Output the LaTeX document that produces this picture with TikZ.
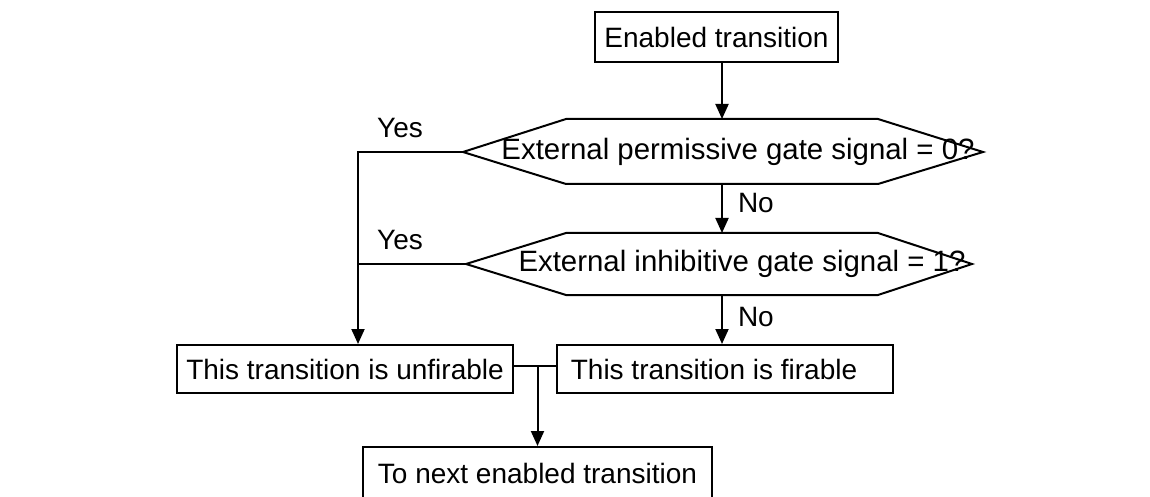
\documentclass[tikz,border=0pt]{standalone}
\usepackage{fontspec}
\setmainfont{Liberation Sans}
\usetikzlibrary{arrows.meta}
\begin{document}
\begin{tikzpicture}[x=0.5pt,y=-0.5pt, line width=1pt, font=\fontsize{14}{16}\selectfont,
	box/.style={draw, rectangle, inner sep=0pt},
	lbl/.style={inner sep=0pt},
	qtext/.style={inner sep=0pt, font=\fontsize{14.7}{16}\selectfont},
	arr/.style={-{Triangle[length=7.5pt,width=6.5pt]}}]
	\useasboundingbox (0,0) rectangle (1150,497);
	
	\node[box, minimum width=121.5pt, minimum height=25pt] (enabled) at (716.5,37) {Enabled transition};
	\draw (463,152) coordinate (permW) -- (566,119) -- (878,119) -- (983,152) -- (878,184) -- (566,184) -- cycle;
	\coordinate (permT) at (722,119);
	\coordinate (permB) at (722,184);
	\node[qtext] (perm) at (738,152) {External permissive gate signal = 0?};
	\draw (466,264) coordinate (inhibW) -- (566,233) -- (878,233) -- (972,264) -- (878,295) -- (566,295) -- cycle;
	\coordinate (inhibT) at (722,233);
	\coordinate (inhibB) at (722,295);
	\node[qtext] (inhib) at (742,264) {External inhibitive gate signal = 1?};
	\node[box, minimum width=168pt, minimum height=24pt] (unfire) at (345,369) {This transition is unfirable};
	\node[box, minimum width=168pt, minimum height=24pt] (fire) at (725,369) {\hspace*{-11pt}This transition is firable};
	\node[box, minimum width=174.5pt, minimum height=26pt] (next) at (537.5,473) {To next enabled transition};
	
	\draw[arr] (permT |- enabled.south) -- (permT);
	\draw[arr] (permB) -- (inhibT);
	\draw[arr] (inhibB) -- (inhibB |- fire.north);
	\coordinate (yes) at (358,152);
	\draw[arr] (permW) -- (yes) -- (yes |- unfire.north);
	\draw (inhibW) -- (inhibW -| yes);
	\draw ([yshift=1.5pt]unfire.east) -- ([yshift=1.5pt]fire.west);
	\coordinate (join) at (537.5,366);
	\draw[arr] (join) -- (join |- next.north);
	
	\node[lbl] (yes1) at (400,128) {Yes};
	\node[lbl] (yes2) at (400,240) {Yes};
	\node[lbl, anchor=west] (no1) at (737,203) {No};
	\node[lbl, anchor=west] (no2) at (737,317) {No};
\end{tikzpicture}
\end{document}
